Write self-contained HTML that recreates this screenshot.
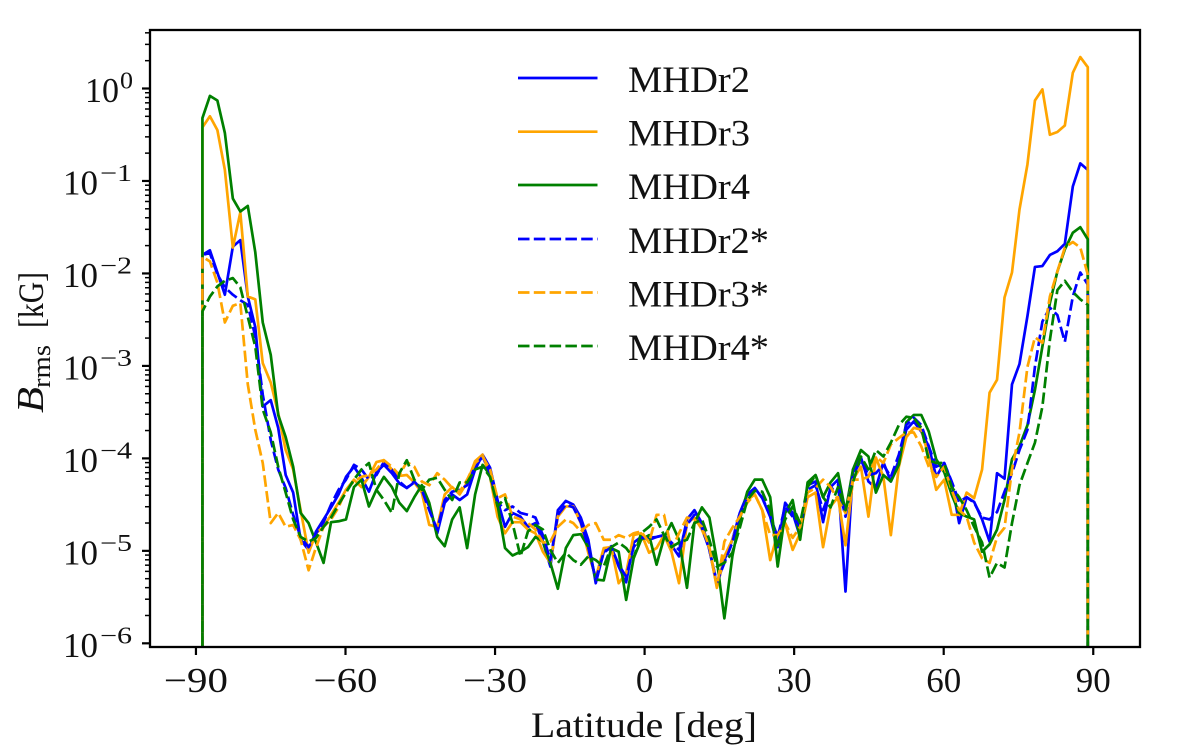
<!DOCTYPE html>
<html lang="en">
<head>
<meta charset="utf-8">
<title>Brms versus latitude</title>
<style>
html,body{margin:0;padding:0;background:#fff;width:1200px;height:753px;overflow:hidden;}
svg{display:block;overflow:hidden;}
text{font-family:"Liberation Serif",serif;fill:#111;}
</style>
</head>
<body>
<svg id="chart" xmlns="http://www.w3.org/2000/svg" width="1200" height="753" viewBox="0 0 1200 753">
  <defs><clipPath id="plot-clip"><rect x="150" y="30" width="990" height="617"></rect></clipPath></defs>
  <rect x="0" y="0" width="1200" height="753" fill="#fff"></rect>
  <g id="series-layer" clip-path="url(#plot-clip)"></g>
  <g id="tick-layer"></g>
  <rect x="150" y="30" width="990" height="617" fill="none" stroke="#000" stroke-width="2.3"></rect>
  <text x="531" y="737" font-size="36" textLength="226" lengthAdjust="spacingAndGlyphs">Latitude [deg]</text>
  <g>
    <text transform="translate(43,413) rotate(-90)" font-size="38" font-style="italic" textLength="26" lengthAdjust="spacingAndGlyphs">B</text>
    <text transform="translate(50,388) rotate(-90)" font-size="26" textLength="43" lengthAdjust="spacingAndGlyphs">rms</text>
    <text transform="translate(43,328) rotate(-90)" font-size="36" textLength="56" lengthAdjust="spacingAndGlyphs">[kG]</text>
  </g>
  <g>
    <g>
      <line x1="518" x2="597.5" y1="78" y2="78" stroke="#0000ff" stroke-width="2.7"></line>
      <text x="628" y="92" font-size="37" textLength="122" lengthAdjust="spacingAndGlyphs">MHDr2</text>
    </g>
    <g>
      <line x1="518" x2="597.5" y1="131.7" y2="131.7" stroke="#ffa500" stroke-width="2.7"></line>
      <text x="628" y="145.7" font-size="37" textLength="122" lengthAdjust="spacingAndGlyphs">MHDr3</text>
    </g>
    <g>
      <line x1="518" x2="597.5" y1="185" y2="185" stroke="#008000" stroke-width="2.7"></line>
      <text x="628" y="199" font-size="37" textLength="122" lengthAdjust="spacingAndGlyphs">MHDr4</text>
    </g>
    <g>
      <line x1="518" x2="597.5" y1="239" y2="239" stroke="#0000ff" stroke-width="2.7" stroke-dasharray="11.5 4.3"></line>
      <text x="628" y="253" font-size="37" textLength="141" lengthAdjust="spacingAndGlyphs">MHDr2*</text>
    </g>
    <g>
      <line x1="518" x2="597.5" y1="292.5" y2="292.5" stroke="#ffa500" stroke-width="2.7" stroke-dasharray="11.5 4.3"></line>
      <text x="628" y="306.5" font-size="37" textLength="141" lengthAdjust="spacingAndGlyphs">MHDr3*</text>
    </g>
    <g>
      <line x1="518" x2="597.5" y1="346" y2="346" stroke="#008000" stroke-width="2.7" stroke-dasharray="11.5 4.3"></line>
      <text x="628" y="360" font-size="37" textLength="141" lengthAdjust="spacingAndGlyphs">MHDr4*</text>
    </g>
  </g>
</svg>
<script>
// Latitude grid, degrees
const latitude = [-88.7,-87.2,-85.7,-84.2,-82.6,-81.1,-79.6,-78.1,-76.6,-75.0,
-73.5,-72.0,-70.5,-69.0,-67.4,-65.9,-64.4,-62.9,-61.4,-59.9,
-58.3,-56.8,-55.3,-53.8,-52.3,-50.7,-49.2,-47.7,-46.2,-44.7,
-43.2,-41.6,-40.1,-38.6,-37.1,-35.6,-34.0,-32.5,-31.0,-29.5,
-28.0,-26.5,-24.9,-23.4,-21.9,-20.4,-18.9,-17.4,-15.8,-14.3,
-12.8,-11.3,-9.8,-8.2,-6.7,-5.2,-3.7,-2.2,-0.7,0.9,
2.4,3.9,5.4,6.9,8.5,10.0,11.5,13.0,14.5,16.0,
17.6,19.1,20.6,22.1,23.6,25.2,26.7,28.2,29.7,31.2,
32.7,34.3,35.8,37.3,38.8,40.3,41.8,43.4,44.9,46.4,
47.9,49.4,51.0,52.5,54.0,55.5,57.0,58.5,60.1,61.6,
63.1,64.6,66.1,67.7,69.2,70.7,72.2,73.7,75.2,76.8,
78.3,79.8,81.3,82.8,84.3,85.9,87.4,88.9];

// log10(Brms / kG)
const logMHDr2 = [-1.80,-1.75,-1.99,-2.23,-1.71,-1.64,-2.25,-2.58,-3.44,-3.37,
-3.67,-4.18,-4.37,-4.88,-4.99,-4.79,-4.66,-4.53,-4.39,-4.20,
-4.09,-4.21,-4.36,-4.15,-4.07,-4.16,-4.27,-4.32,-4.26,-4.34,
-4.52,-4.81,-4.48,-4.39,-4.45,-4.39,-4.12,-3.96,-4.10,-4.45,
-4.74,-4.59,-4.63,-4.74,-4.70,-4.90,-5.17,-4.56,-4.46,-4.50,
-4.64,-4.88,-5.35,-5.01,-4.95,-5.17,-5.34,-4.91,-4.85,-4.86,
-4.85,-4.83,-4.94,-5.06,-4.66,-4.56,-4.70,-4.99,-5.37,-5.10,
-4.88,-4.59,-4.39,-4.32,-4.43,-4.63,-4.96,-4.48,-4.59,-4.85,
-4.29,-4.25,-4.69,-4.31,-4.23,-5.44,-4.12,-3.99,-4.25,-4.32,
-4.04,-4.25,-4.02,-3.69,-3.60,-3.71,-3.87,-4.20,-4.05,-4.26,
-4.70,-4.42,-4.47,-4.66,-4.90,-4.16,-4.22,-3.20,-2.98,-2.46,
-1.93,-1.92,-1.80,-1.76,-1.68,-1.06,-0.81,-0.88];

const logMHDr3 = [-0.42,-0.30,-0.45,-0.88,-1.72,-1.34,-2.25,-2.28,-2.97,-3.18,
-3.51,-3.91,-4.12,-4.56,-5.02,-4.81,-4.74,-4.61,-4.48,-4.34,
-4.23,-4.31,-4.20,-4.04,-4.02,-4.12,-4.19,-4.18,-4.26,-4.37,
-4.72,-4.74,-4.39,-4.31,-4.39,-4.26,-4.03,-3.96,-4.20,-4.63,
-4.81,-4.69,-4.69,-4.77,-4.81,-5.01,-5.13,-4.63,-4.52,-4.52,
-4.70,-5.02,-5.29,-4.97,-4.96,-5.35,-5.24,-4.83,-4.81,-5.02,
-4.97,-4.83,-5.01,-5.35,-4.70,-4.64,-4.77,-4.97,-5.40,-5.06,
-4.88,-4.63,-4.45,-4.39,-4.56,-5.10,-4.81,-4.70,-4.99,-4.81,
-4.42,-4.37,-4.96,-4.52,-4.42,-4.94,-4.23,-4.09,-4.63,-3.99,
-4.20,-4.83,-4.09,-3.77,-3.67,-3.69,-3.98,-4.34,-4.23,-4.61,
-4.61,-4.37,-4.43,-4.12,-3.29,-3.15,-2.26,-1.99,-1.31,-0.82,
-0.13,-0.01,-0.50,-0.47,-0.40,0.17,0.34,0.23];

const logMHDr4 = [-0.32,-0.08,-0.13,-0.48,-1.19,-1.33,-1.27,-1.77,-2.53,-2.88,
-3.53,-3.77,-4.09,-4.59,-4.70,-4.91,-5.13,-4.69,-4.68,-4.66,
-4.31,-4.23,-4.52,-4.34,-4.20,-4.31,-4.48,-4.57,-4.42,-4.29,
-4.48,-4.85,-4.95,-4.66,-4.53,-4.97,-4.39,-4.07,-4.18,-4.50,
-4.97,-5.05,-5.01,-4.96,-4.85,-4.90,-5.13,-5.41,-4.97,-4.83,
-4.82,-4.96,-5.31,-5.32,-4.97,-5.01,-5.53,-5.08,-4.88,-4.83,
-5.15,-4.86,-4.70,-4.88,-5.40,-4.70,-4.53,-4.64,-5.10,-5.73,
-5.06,-4.66,-4.36,-4.23,-4.23,-4.42,-5.17,-4.59,-4.45,-4.88,
-4.26,-4.18,-4.42,-4.26,-4.16,-4.58,-4.12,-3.91,-3.98,-4.37,
-4.18,-4.25,-4.07,-3.61,-3.53,-3.53,-3.71,-4.01,-4.15,-4.39,
-4.59,-4.63,-4.66,-5.01,-4.93,-4.77,-4.45,-4.01,-3.87,-3.64,
-3.26,-2.79,-2.32,-1.98,-1.74,-1.56,-1.50,-1.63];

const logMHDr2Star = [-1.80,-1.78,-2.01,-2.15,-2.23,-2.29,-2.34,-2.68,-3.31,-3.80,
-4.12,-4.32,-4.61,-4.85,-4.96,-4.81,-4.69,-4.50,-4.34,-4.23,
-4.07,-4.12,-4.23,-4.18,-4.04,-4.12,-4.25,-4.32,-4.25,-4.34,
-4.56,-4.77,-4.45,-4.36,-4.34,-4.29,-4.09,-3.98,-4.16,-4.47,
-4.56,-4.52,-4.59,-4.61,-4.64,-4.83,-5.10,-4.61,-4.50,-4.53,
-4.69,-4.96,-5.31,-5.02,-4.96,-5.15,-5.28,-4.96,-4.85,-4.88,
-4.85,-4.83,-4.91,-4.99,-4.72,-4.61,-4.75,-4.99,-5.34,-5.13,
-4.91,-4.59,-4.42,-4.34,-4.42,-4.63,-4.85,-4.52,-4.63,-4.74,
-4.34,-4.29,-4.56,-4.34,-4.29,-4.63,-4.18,-4.02,-4.18,-4.16,
-4.07,-4.20,-3.96,-3.64,-3.56,-3.64,-3.87,-4.09,-4.05,-4.25,
-4.47,-4.42,-4.48,-4.64,-4.66,-4.58,-4.36,-4.16,-3.91,-3.69,
-3.01,-2.52,-2.37,-2.45,-2.74,-2.25,-1.99,-2.12];

const logMHDr3Star = [-1.82,-1.87,-2.10,-2.53,-2.35,-2.32,-3.20,-3.69,-4.05,-4.70,
-4.59,-4.74,-4.72,-4.88,-5.21,-4.96,-4.74,-4.66,-4.53,-4.34,
-4.25,-4.20,-4.18,-4.12,-4.02,-4.09,-4.18,-4.04,-4.09,-4.25,
-4.29,-4.16,-4.23,-4.32,-4.36,-4.23,-4.05,-3.98,-4.12,-4.43,
-4.39,-4.63,-4.66,-4.70,-4.77,-4.91,-4.90,-4.74,-4.66,-4.70,
-4.79,-4.72,-4.70,-4.88,-4.88,-4.83,-4.86,-4.81,-4.79,-4.91,
-4.61,-4.61,-4.99,-4.81,-4.64,-4.66,-4.74,-4.96,-5.39,-4.90,
-4.75,-4.63,-4.48,-4.39,-4.56,-4.83,-4.83,-4.70,-4.86,-4.74,
-4.37,-4.32,-4.23,-4.31,-4.45,-4.59,-4.23,-4.23,-4.20,-3.98,
-4.05,-3.85,-3.78,-3.72,-3.72,-3.87,-4.09,-4.20,-4.09,-4.34,
-4.56,-4.63,-4.91,-5.08,-5.13,-4.85,-4.75,-4.12,-3.72,-3.01,
-2.69,-2.75,-2.25,-1.98,-1.72,-1.66,-1.72,-2.01];

const logMHDr4Star = [-2.41,-2.25,-2.14,-2.08,-2.05,-2.15,-2.47,-2.79,-3.47,-3.72,
-4.09,-4.37,-4.66,-4.85,-4.90,-4.86,-4.74,-4.64,-4.50,-4.37,
-4.23,-4.12,-4.05,-4.34,-4.45,-4.59,-4.16,-4.02,-4.23,-4.34,
-4.23,-4.21,-4.34,-4.45,-4.26,-4.26,-4.12,-4.09,-4.20,-4.52,
-4.43,-4.70,-5.06,-4.79,-4.72,-4.77,-4.99,-5.13,-5.02,-5.10,
-5.15,-5.06,-5.10,-5.17,-4.96,-4.91,-4.97,-5.08,-4.81,-4.74,
-4.66,-4.83,-4.96,-4.91,-4.88,-4.70,-4.66,-4.88,-5.17,-5.13,
-5.02,-4.75,-4.45,-4.35,-4.36,-4.56,-4.96,-4.66,-4.52,-4.70,
-4.31,-4.18,-4.42,-4.53,-4.31,-4.56,-4.26,-3.98,-4.12,-3.91,
-3.98,-3.83,-3.64,-3.55,-3.56,-3.67,-4.02,-4.05,-4.05,-4.31,
-4.42,-4.56,-4.74,-4.91,-5.29,-5.13,-5.18,-4.70,-4.29,-4.05,
-3.83,-3.44,-2.72,-2.18,-2.08,-2.20,-2.28,-2.34];

// Tick labels
const xTickValues = [-90,-60,-30,0,30,60,90];
const yTickExponents = [0,-1,-2,-3,-4,-5,-6];
const yMinorMultipliers = [2,3,4,5,6,7,8,9];

// The profile drops to the bottom of the axis at both poles (effectively zero field)
const poleFloorLog = -6.05;

function xScale(lat) { return 644.6 + 4.985 * lat; }
function yScale(logValue) { return 88.5 - 92.47 * logValue; }

const NS = 'http://www.w3.org/2000/svg';
const seriesLayer = document.getElementById('series-layer');
const tickLayer = document.getElementById('tick-layer');

function drawSeries(values, color, dashed, name) {
  const parts = ['M' + xScale(latitude[0]).toFixed(2) + ' ' + yScale(poleFloorLog).toFixed(2)];
  for (let i = 0; i < values.length; i++) {
    parts.push('L' + xScale(latitude[i]).toFixed(2) + ' ' + yScale(values[i]).toFixed(2));
  }
  parts.push('L' + xScale(latitude[values.length - 1]).toFixed(2) + ' ' + yScale(poleFloorLog).toFixed(2));
  const path = document.createElementNS(NS, 'path');
  path.setAttribute('d', parts.join(''));
  path.setAttribute('fill', 'none');
  path.setAttribute('stroke', color);
  path.setAttribute('stroke-width', '2.7');
  path.setAttribute('stroke-linejoin', 'round');
  if (dashed) path.setAttribute('stroke-dasharray', '11.5 4.3');
  
  
  seriesLayer.appendChild(path);
}

drawSeries(logMHDr2, '#0000ff', false, 'series-mhdr2');
drawSeries(logMHDr3, '#ffa500', false, 'series-mhdr3');
drawSeries(logMHDr4, '#008000', false, 'series-mhdr4');
drawSeries(logMHDr2Star, '#0000ff', true, 'series-mhdr2-star');
drawSeries(logMHDr3Star, '#ffa500', true, 'series-mhdr3-star');
drawSeries(logMHDr4Star, '#008000', true, 'series-mhdr4-star');

function addTick(x1, y1, x2, y2, width, name) {
  const tick = document.createElementNS(NS, 'line');
  tick.setAttribute('x1', x1);
  tick.setAttribute('y1', y1);
  tick.setAttribute('x2', x2);
  tick.setAttribute('y2', y2);
  tick.setAttribute('stroke', '#000');
  tick.setAttribute('stroke-width', width);
  
  
  tickLayer.appendChild(tick);
}

function addLabel(text, x, y, size, anchor, length, name) {
  const label = document.createElementNS(NS, 'text');
  label.textContent = text;
  label.setAttribute('x', x);
  label.setAttribute('y', y);
  label.setAttribute('font-size', size);
  label.setAttribute('text-anchor', anchor);
  if (length) {
    label.setAttribute('textLength', length);
    label.setAttribute('lengthAdjust', 'spacingAndGlyphs');
  }
  
  
  tickLayer.appendChild(label);
}

xTickValues.forEach(function (lat) {
  const x = xScale(lat);
  addTick(x, 647, x, 655, 2.2, 'x-tick-' + lat);
  const text = lat < 0 ? '\u2212' + Math.abs(lat) : String(lat);
  addLabel(text, x, 692, 35, 'middle', lat < 0 ? 64 : 0, 'x-tick-label-' + lat);
});

yTickExponents.forEach(function (exp) {
  const y = yScale(exp);
  addTick(142, y, 150, y, 2.2, 'y-tick-major-' + exp);
  if (exp === 0) {
    addLabel('10', 85, y + 13.5, 35, 'start', 34, 'y-tick-label-base-' + exp);
    addLabel('0', 120, y, 24, 'start', 13, 'y-tick-label-exponent-' + exp);
  } else {
    addLabel('10', 63, y + 13.5, 35, 'start', 35, 'y-tick-label-base-' + exp);
    addLabel('\u2212' + Math.abs(exp), 100, y, 24, 'start', 32, 'y-tick-label-exponent-' + exp);
  }
});

[1, 0, -1, -2, -3, -4, -5, -6].forEach(function (decade) {
  yMinorMultipliers.forEach(function (m) {
    if (decade === 1 && m > 4) return;
    const logV = decade - 1 + Math.log10(m);
    const y = yScale(logV);
    if (y < 30 || y > 647) return;
    addTick(145, y, 150, y, 1.5, 'y-tick-minor');
  });
});
</script>
</body>
</html>
